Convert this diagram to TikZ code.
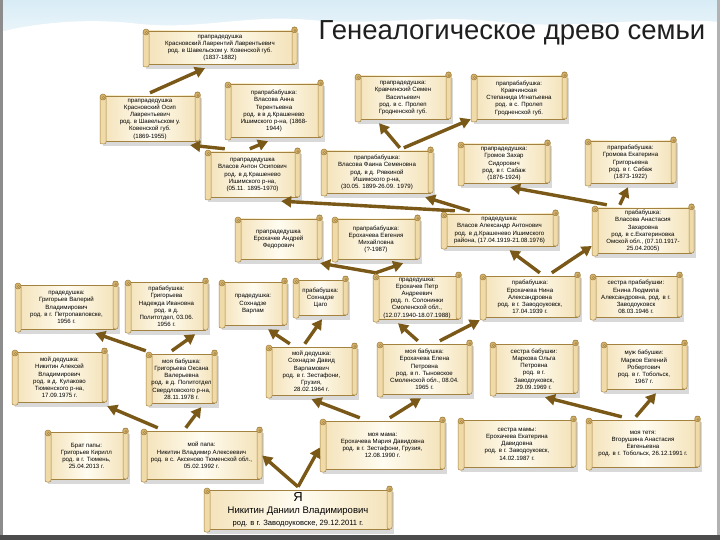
\documentclass[tikz,border=0pt]{standalone}
\usepackage{fontspec}
\setmainfont{Liberation Sans}
\usetikzlibrary{arrows.meta}
\definecolor{arrc}{HTML}{7A5818}
\definecolor{scrlc}{HTML}{A38240}
\definecolor{parch}{HTML}{F4E3BA}
\definecolor{parchmid}{HTML}{FFFCF1}
\definecolor{rollc}{HTML}{EFDAA8}
\definecolor{curlc}{HTML}{D3B06A}
\definecolor{skyc}{HTML}{D8ECF6}
\tikzset{
  arr/.style={draw=arrc, line width=3.4pt, -{Triangle[length=10pt,width=11pt]}},
  ntext/.style={font=\fontsize{6.1}{7.2}\selectfont, align=center, inner sep=0pt, text=black},
  scrollbody/.style={draw=scrlc, line width=0.5pt, left color=parch, right color=parch, middle color=parchmid},
  scrollroll/.style={draw=scrlc, line width=0.5pt, fill=rollc, rounded corners=2pt},
  scrollcurl/.style={draw=scrlc, line width=0.5pt, fill=curlc},
  scrollcurlin/.style={draw=scrlc, line width=0.4pt, fill=rollc},
  scrollshadow/.style={fill=black, opacity=0.15},
}
\newcommand\scrl[6]{%
  \fill[scrollshadow] (#2+3,#3+6) rectangle (#4+2,#5+2);
  \path[scrollbody] (#2+3,#3+4) rectangle (#4-3,#5-3);
  \path[scrollroll] (#2,#3+4) rectangle (#2+6,#5);
  \path[scrollroll] (#4-5,#3) rectangle (#4,#5-3);
  \path[scrollcurl] (#2+3,#3+5) circle[radius=3pt];
  \path[scrollcurl] (#4-2.5,#3+3) circle[radius=2.8pt];
  \path[scrollcurlin] (#2+3.6,#3+5.5) circle[radius=1.1pt];
  \path[scrollcurlin] (#4-2,#3+3.5) circle[radius=1pt];
  \node[ntext, minimum width={(#4-#2)*1pt}, minimum height={(#5-#3)*1pt}] (#1) at ({(#2+#4)/2},{(#3+#5)/2+1}) {#6};
}
\begin{document}
\begin{tikzpicture}[x=1pt,y=-1pt]
\useasboundingbox (0,0) rectangle (720,540);
\fill[white] (0,0) rectangle (720,540);
% sky and snow at the top
\shade[top color=skyc, bottom color=skyc!50!white] (0,0) rectangle (720,34);
\fill[white] (0,32) .. controls (40,22) and (90,18) .. (140,24) .. controls (200,30) and (250,14) .. (310,20)
  .. controls (380,26) and (430,14) .. (500,22) .. controls (570,30) and (640,16) .. (720,22) -- (720,40) -- (0,40) -- cycle;
% frame strips
\fill[black!45] (0,0) rectangle (3,540);
\fill[black!30] (717,0) rectangle (720,540);
\fill[black!70] (0,535) rectangle (720,540);

\node[font=\fontsize{27.5}{30}\selectfont, text=black!88] (title) at (512,33) {Генеалогическое древо семьи};

\scrl{lavr}{143}{27}{297}{67}{прапрадедушка\\ Красновский Лаврентий Лаврентьевич\\ род. в Шавельском у. Ковенской губ.\\ (1837-1882)}
\scrl{osip}{100}{92}{200}{144}{прапрадедушка\\ Красновский Осип\\ Лаврентьевич\\ род. в Шавельском у.\\ Ковенской губ.\\ (1869-1955)}
\scrl{anna}{225}{80}{323}{140}{прапрабабушка:\\ Власова Анна\\ Терентьевна\\ род. в в д.Крашенево\\ Ишимского р-на, (1868-\\ 1944)}
\scrl{semen}{355}{72}{451}{122}{прапрадедушка:\\ Кравчинский Семен\\ Васильевич\\ род. в с. Пролеп\\ Гродненской губ.}
\scrl{stepan}{471}{72}{567}{122}{прапрабабушка:\\ Кравчинская\\ Степанида Игнатьевна\\ род. в с. Пролеп\\ Гродненской губ.}
\scrl{anton}{205}{148}{300}{200}{прапрадедушка\\ Власов Антон Осипович\\ род. в д.Крашенево\\ Ишимского р-на,\\ (05.11. 1895-1970)}
\scrl{faina}{321}{147}{433}{196}{прапрабабушка:\\ Власова Фаина Семеновна\\ род. в д. Рявкиной\\ Ишимского р-на,\\ (30.05. 1899-26.09. 1979)}
\scrl{zahar}{458}{140}{550}{186}{прапрадедушка:\\ Громов Захар\\ Сидорович\\ род. в г. Сабаж\\ (1876-1924)}
\scrl{ekatG}{585}{137}{676}{186}{прапрабабушка:\\ Громова Екатерина\\ Григорьевна\\ род. в г. Сабаж\\ (1873-1922)}
\scrl{andrey}{235}{215}{322}{262}{прапрадедушка\\ Ерохачев Андрей\\ Федорович}
\scrl{evgen}{332}{215}{420}{262}{прапрабабушка:\\ Ерохачева Евгения\\ Михайловна\\ (?-1987)}
\scrl{alex}{441}{210}{558}{249}{прадедушка:\\ Власов Александр Антонович\\ род. в д.Крашенево Ишимского\\ района, (17.04.1919-21.08.1976)}
\scrl{anast}{592}{204}{694}{256}{прабабушка:\\ Власова Анастасия\\ Захаровна\\ род. в с.Екатериновка\\ Омской обл., (07.10.1917-\\ 25.04.2005)}
\scrl{valer}{15}{281}{118}{332}{прадедушка:\\ Григорьев Валерий\\ Владимирович\\ род. в г. Петропавловске,\\ 1956 г.}
\scrl{nadya}{125}{278}{208}{333}{прабабушка:\\ Григорьева\\ Надежда Ивановна\\ род. в д.\\ Политотдел, 03.06.\\ 1956 г.}
\scrl{varlam}{219}{278}{287}{328}{прадедушка:\\ Сохнадзе\\ Варлам}
\scrl{tsago}{293}{276}{348}{318}{прабабушка:\\ Сохнадзе\\ Цаго}
\scrl{petr}{373}{272}{461}{322}{прадедушка:\\ Ерохачев Петр\\ Андреевич\\ род. п. Солонинки\\ Смоленской обл.,\\ (12.07.1940-18.07.1988)}
\scrl{nina}{480}{272}{580}{320}{прабабушка:\\ Ерохачева Нина\\ Александровна\\ род. в г. Заводоуковск,\\ 17.04.1939 г.}
\scrl{ludm}{590}{272}{682}{320}{сестра прабабушки:\\ Енина Людмила\\ Александровна, род. в г.\\ Заводоуковск\\ 08.03.1946 г.}
\scrl{aleksey}{12}{348}{107}{405}{мой дедушка:\\ Никитин Алексей\\ Владимирович\\ род. в д. Кулаково\\ Тюменского р-на,\\ 17.09.1975 г.}
\scrl{oksana}{146}{350}{217}{406}{моя бабушка:\\ Григорьева Оксана\\ Валерьевна\\ род. в д. Политотдел\\ Свердловского р-на,\\ 28.11.1978 г.}
\scrl{david}{266}{343}{357}{398}{мой дедушка:\\ Сохнадзе Давид\\ Варламович\\ род. в г. Зестафони,\\ Грузия,\\ 28.02.1964 г.}
\scrl{elena}{377}{340}{472}{397}{моя бабушка:\\ Ерохачева Елена\\ Петровна\\ род. в п. Тыновское\\ Смоленской обл., 08.04.\\ 1965 г.}
\scrl{olga}{490}{340}{578}{396}{сестра бабушки:\\ Маркова Ольга\\ Петровна\\ род. в г.\\ Заводоуковск,\\ 29.09.1969 г.}
\scrl{evgeniy}{601}{340}{687}{392}{муж бабушки:\\ Марков Евгений\\ Робертович\\ род. в г. Тобольск,\\ 1967 г.}
\scrl{kirill}{45}{428}{128}{482}{Брат папы:\\ Григорьев Кирилл\\ род. в г. Тюмень,\\ 25.04.2013 г.}
\scrl{papa}{141}{427}{262}{482}{мой папа:\\ Никитин Владимир Алексеевич\\ род. в с. Аксеново Тюменской обл.,\\ 05.02.1992 г.}
\scrl{mama}{320}{417}{445}{472}{моя мама:\\ Ерохачева Мария Давидовна\\ род. в г. Зестафони, Грузия,\\ 12.08.1990 г.}
\scrl{katya}{458}{416}{576}{470}{сестра мамы:\\ Ерохачева Екатерина\\ Давидовна\\ род. в г. Заводоуковск,\\ 14.02.1987 г.}
\scrl{tetya}{586}{416}{700}{470}{моя тетя:\\ Вторушина Анастасия\\ Евгеньевна\\ род. в г. Тобольск, 26.12.1991 г.}
\scrl{me}{204}{486}{392}{532}{{\fontsize{13}{14}\selectfont Я}\\[5pt] {\fontsize{9.5}{11}\selectfont Никитин Даниил Владимирович}\\[4pt] {\fontsize{7.6}{9}\selectfont род. в г. Заводоуковске, 29.12.2011 г.}}

% connectors (child -> parent)
\draw[arr] (me.north) -- (papa.east);
\draw[arr] (me.north) -- ([yshift=-2pt]mama.west);
\draw[arr] ([xshift=17pt]papa.north west) -- (aleksey.south east);
\draw[arr] ([xshift=45pt]papa.north west) -- ([xshift=-16pt]oksana.south east);
\draw[arr] (oksana.north west) -- ([xshift=-23pt]valer.south east);
\draw[arr] ([xshift=26pt]oksana.north west) -- ([xshift=-13pt]nadya.south east);
\draw[arr] ([xshift=40pt]mama.north west) -- (david.south);
\draw[arr] ([xshift=70pt]mama.north west) -- ([xshift=-3.5pt]elena.south);
\draw[arr] ([xshift=24pt]david.north west) -- ([xshift=15pt]varlam.south);
\draw[arr] ([xshift=39pt]david.north west) -- ([xshift=1.5pt]tsago.south);
\draw[arr] ([xshift=41pt]elena.north west) -- ([xshift=-19pt]petr.south);
\draw[arr] ([xshift=63pt]elena.north west) -- ([yshift=1pt]nina.south west);
\draw[arr] ([xshift=3pt]petr.north west) -- ([xshift=-2pt]andrey.south east);
\draw[arr] ([xshift=3pt]petr.north west) -- ([xshift=-17pt]evgen.south east);
\draw[arr] ([xshift=60pt]nina.north west) -- ([xshift=10pt]alex.south);
\draw[arr] ([xshift=72pt]nina.north west) -- ([yshift=-15pt]anast.west);
\draw[arr] ([xshift=14pt]alex.north west) -- ([xshift=-19pt]anton.south east);
\draw[arr] ([xshift=29pt]alex.north west) -- ([xshift=-8pt]faina.south east);
\draw[arr] ([xshift=79pt]faina.north west) -- ([xshift=-24pt]semen.south);
\draw[arr] ([xshift=83pt]faina.north west) -- ([yshift=4pt]stepan.south west);
\draw[arr] ([xshift=20pt]anton.north west) -- ([xshift=-10pt]osip.south east);
\draw[arr] ([xshift=45pt]anton.north west) -- ([xshift=-6pt]anna.south);
\draw[arr] (osip.north) -- ([xshift=-15pt]lavr.south);
\draw[arr] ([xshift=15pt]anast.north west) -- ([xshift=-40pt]zahar.south east);
\draw[arr] ([xshift=28pt]anast.north west) -- ([xshift=-2.5pt]ekatG.south);
\draw[arr] ([xshift=36pt]tetya.north west) -- ([xshift=11pt]olga.south);
\draw[arr] ([xshift=50pt]tetya.north west) -- ([xshift=12pt]evgeniy.south);
\end{tikzpicture}
\end{document}
